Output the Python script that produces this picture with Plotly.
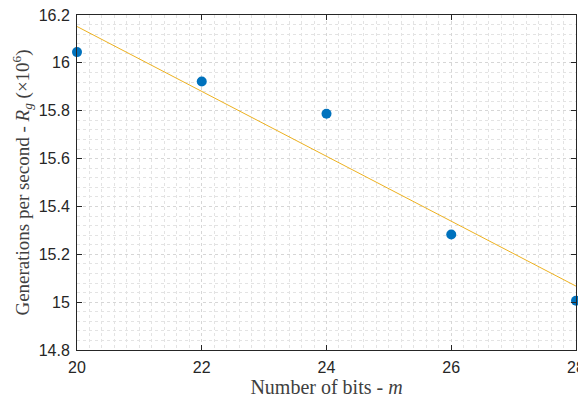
import plotly.graph_objects as go

bits = [20, 22, 24, 26, 28]
rate = [16.045, 15.922, 15.787, 15.283, 15.006]
fit_x = [20, 28]
fit_y = [16.152, 15.067]

x_ticks = [20, 22, 24, 26, 28]
y_ticks = [14.8, 15.0, 15.2, 15.4, 15.6, 15.8, 16.0, 16.2]
y_ticklabels = ["14.8", "15", "15.2", "15.4", "15.6", "15.8", "16", "16.2"]

fig = go.Figure()
fig.add_trace(go.Scatter(x=bits, y=rate, mode="markers",
                         marker=dict(color="#0072BD", size=10), cliponaxis=False,
                         showlegend=False))
fig.add_trace(go.Scatter(x=fit_x, y=fit_y, mode="lines",
                         line=dict(color="#EDB120", width=1), showlegend=False))

axis_common = dict(
    showline=True, linecolor="#262626", linewidth=1, mirror="ticks",
    ticks="inside", ticklen=5, tickcolor="#262626",
    showgrid=True, gridcolor="#d6d6d6", griddash="dot", gridwidth=1,
    zeroline=False, automargin=False, ticklabeloverflow="allow",
    tickfont=dict(family="Liberation Sans, Arial", size=16, color="#262626"),
)

# page body has an 8px default margin; figure offset accordingly
fig.update_layout(
    width=578, height=390,
    margin=dict(l=69, r=10, t=7, b=48),
    plot_bgcolor="white", paper_bgcolor="white",
    xaxis=dict(range=[20, 28], tickvals=x_ticks, ticklabelstandoff=3,
               minor=dict(dtick=0.2, showgrid=True, gridcolor="#e3e3e3", griddash="dot", ticks=""),
               title=dict(text="Number of bits - <i>m</i>", standoff=7,
                          font=dict(family="Liberation Serif, DejaVu Serif", size=20, color="#404040")),
               **axis_common),
    yaxis=dict(range=[14.8, 16.2], tickvals=y_ticks, ticktext=y_ticklabels, ticklabelstandoff=3,
               minor=dict(dtick=0.04, tick0=14.8, showgrid=True, gridcolor="#e3e3e3", griddash="dot", ticks=""),
               title=dict(text="Generations per second - <i>R<sub>g</sub></i> (×10<sup>6</sup>)", standoff=4,
                          font=dict(family="Liberation Serif, DejaVu Serif", size=19, color="#404040")),
               **axis_common),
)

fig.write_html("out.html", post_script="document.body.style.overflow='hidden';")
